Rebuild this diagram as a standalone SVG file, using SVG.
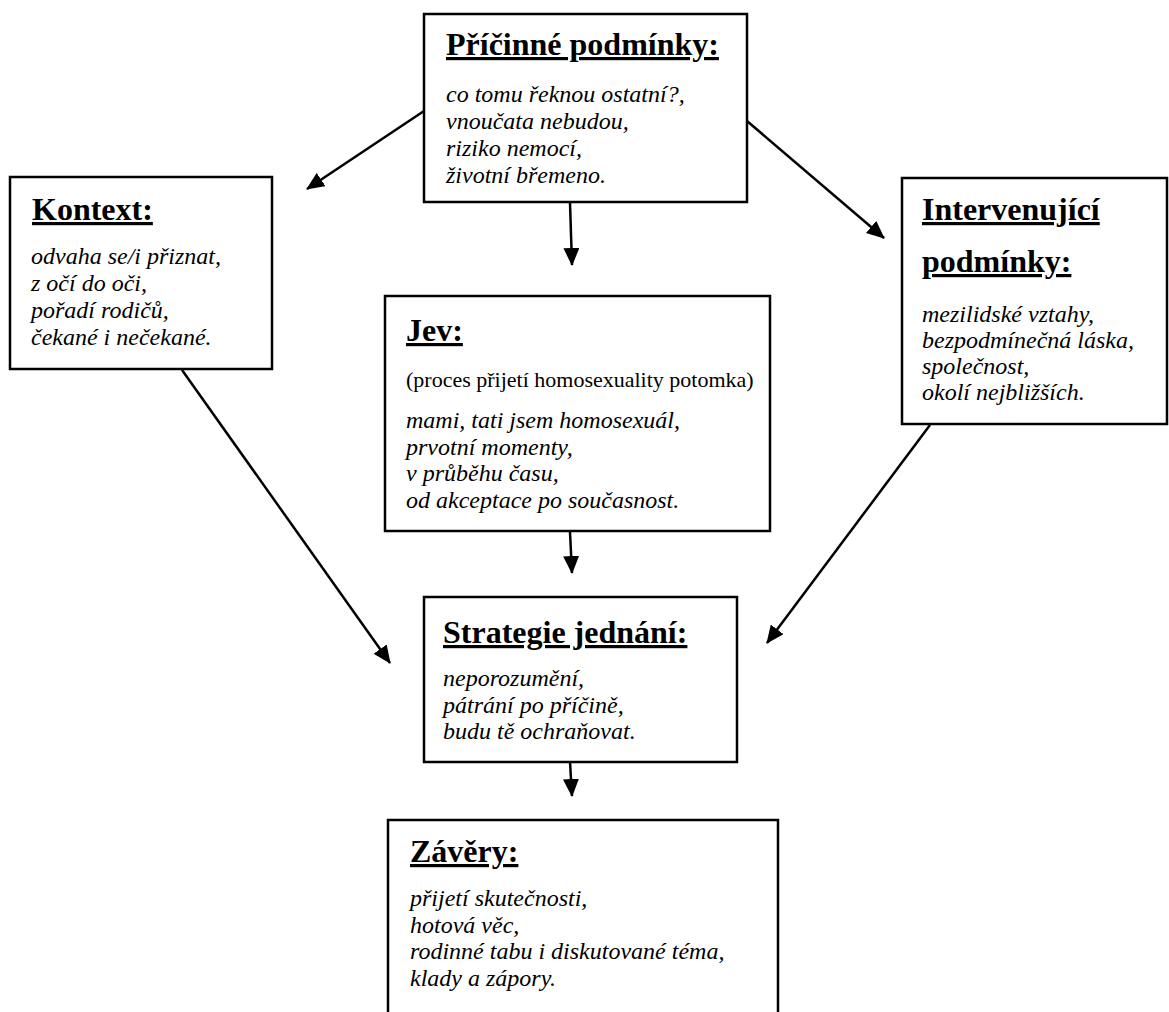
<svg xmlns="http://www.w3.org/2000/svg" width="1169" height="1012" viewBox="0 0 1169 1012">
<style>
.box{fill:#fff;stroke:#000;stroke-width:2.5}
.t{font-family:"Liberation Serif","Times New Roman",serif;font-weight:bold;font-size:32px;text-decoration:underline;text-decoration-thickness:3px;fill:#000}
.b{font-family:"Liberation Serif","Times New Roman",serif;font-style:italic;font-size:24px;fill:#000}
.r{font-family:"Liberation Serif","Times New Roman",serif;font-size:22px;fill:#000}
.c{stroke:#000;stroke-width:2.5;fill:none;marker-end:url(#ah)}
</style>
<defs>
<marker id="ah" markerUnits="userSpaceOnUse" markerWidth="18" markerHeight="16" refX="17" refY="8" orient="auto">
<path d="M0,0 L18,8 L0,16 Z" fill="#000"/>
</marker>
</defs>
<rect width="1169" height="1012" fill="#fff"/>
<g id="connectors">
<line class="c" x1="445" y1="97" x2="307" y2="189"/>
<line class="c" x1="570" y1="203" x2="572" y2="265"/>
<line class="c" x1="747" y1="121" x2="884" y2="238"/>
<line class="c" x1="182" y1="370" x2="390" y2="663"/>
<line class="c" x1="930" y1="425" x2="767" y2="643"/>
<line class="c" x1="570" y1="532" x2="572" y2="573"/>
<line class="c" x1="570" y1="762" x2="572" y2="796"/>
</g>
<g id="pricinne">
<rect class="box" x="424" y="14" width="323" height="188"/>
<text class="t" x="446" y="55">Příčinné podmínky:</text>
<text class="b" x="446" y="102">co tomu řeknou ostatní?,</text>
<text class="b" x="446" y="129">vnoučata nebudou,</text>
<text class="b" x="446" y="156">riziko nemocí,</text>
<text class="b" x="446" y="183">životní břemeno.</text>
</g>
<g id="kontext">
<rect class="box" x="10" y="177" width="262" height="192"/>
<text class="t" x="32" y="220">Kontext:</text>
<text class="b" x="31" y="264">odvaha se/i přiznat,</text>
<text class="b" x="31" y="291">z očí do oči,</text>
<text class="b" x="31" y="318">pořadí rodičů,</text>
<text class="b" x="31" y="345">čekané i nečekané.</text>
</g>
<g id="intervenujici">
<rect class="box" x="902" y="178" width="265" height="246"/>
<text class="t" x="922" y="220">Intervenující</text>
<text class="t" x="922" y="272">podmínky:</text>
<text class="b" x="922" y="322">mezilidské vztahy,</text>
<text class="b" x="922" y="348">bezpodmínečná láska,</text>
<text class="b" x="922" y="374">společnost,</text>
<text class="b" x="922" y="400">okolí nejbližších.</text>
</g>
<g id="jev">
<rect class="box" x="385" y="296" width="385" height="235"/>
<text class="t" x="406" y="341">Jev:</text>
<text class="r" x="406" y="387">(proces přijetí homosexuality potomka)</text>
<text class="b" x="406" y="428">mami, tati jsem homosexuál,</text>
<text class="b" x="406" y="455">prvotní momenty,</text>
<text class="b" x="406" y="481">v průběhu času,</text>
<text class="b" x="406" y="508">od akceptace po současnost.</text>
</g>
<g id="strategie">
<rect class="box" x="424" y="597" width="313" height="165"/>
<text class="t" x="443" y="643">Strategie jednání:</text>
<text class="b" x="443" y="686">neporozumění,</text>
<text class="b" x="443" y="713">pátrání po příčině,</text>
<text class="b" x="443" y="739">budu tě ochraňovat.</text>
</g>
<g id="zavery">
<rect class="box" x="388" y="820" width="390" height="200"/>
<text class="t" x="410" y="862">Závěry:</text>
<text class="b" x="410" y="906">přijetí skutečnosti,</text>
<text class="b" x="410" y="933">hotová věc,</text>
<text class="b" x="410" y="959">rodinné tabu i diskutované téma,</text>
<text class="b" x="410" y="986">klady a zápory.</text>
</g>
</svg>
